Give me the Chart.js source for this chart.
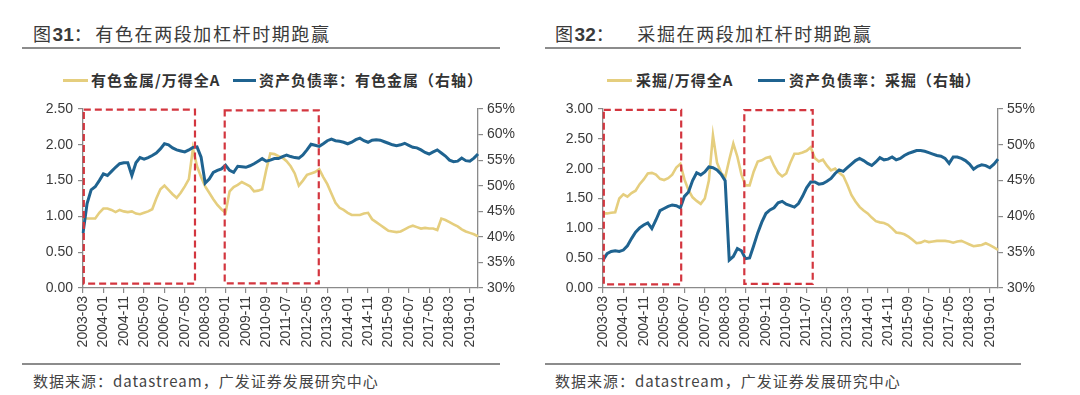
<!DOCTYPE html>
<html><head><meta charset="utf-8">
<script src="https://cdn.jsdelivr.net/npm/chart.js@4.4.1/dist/chart.umd.min.js"></script>
<style>
html,body{margin:0;padding:0;background:#fff;}
body{width:1080px;height:395px;position:relative;overflow:hidden;font-family:"Noto Sans CJK SC","Liberation Sans",sans-serif;color:#333;}
.abs{position:absolute;white-space:nowrap;}
.title{font-size:18px;line-height:22px;top:22px;letter-spacing:1.6px;color:#3a3a3a;}
.title b{font-family:"Liberation Sans",Arial,sans-serif;font-weight:bold;font-size:19px;letter-spacing:0;}
.rule{position:absolute;height:1.5px;background:#8c8c8c;}
.leg{font-size:15px;line-height:20px;top:70px;font-weight:bold;letter-spacing:1px;color:#333;}
.sw{position:absolute;height:3px;top:79px;}
.src{font-size:15px;top:371px;line-height:20px;letter-spacing:1px;color:#444;}
canvas{position:absolute;}
</style>
</head><body>

<div class="abs title" style="left:33px;">图<b>31</b>：<span style="margin-left:2px">有色在两段加杠杆时期跑赢</span></div>
<div class="rule" style="left:22px;width:478px;top:47px;"></div>
<div class="sw" style="left:63px;width:25px;background:#E5CE7E;"></div>
<div class="abs leg" style="left:91px;">有色金属/万得全A</div>
<div class="sw" style="left:233px;width:23px;background:#1F6390;"></div>
<div class="abs leg" style="left:259px;">资产负债率：有色金属（右轴）</div>
<canvas id="c1" width="540" height="265" style="left:0;top:95px;"></canvas>
<div class="rule" style="left:22px;width:478px;top:363px;"></div>
<div class="abs src" style="left:33px;">数据来源：datastream，广发证券发展研究中心</div>

<div class="abs title" style="left:555px;">图<b>32</b>：<span style="margin-left:22px">采掘在两段加杠杆时期跑赢</span></div>
<div class="rule" style="left:545px;width:476px;top:47px;"></div>
<div class="sw" style="left:607px;width:25px;background:#E5CE7E;"></div>
<div class="abs leg" style="left:636px;">采掘/万得全A</div>
<div class="sw" style="left:758px;width:27px;background:#1F6390;"></div>
<div class="abs leg" style="left:789px;">资产负债率：采掘（右轴）</div>
<canvas id="c2" width="540" height="265" style="left:540px;top:95px;"></canvas>
<div class="rule" style="left:545px;width:476px;top:363px;"></div>
<div class="abs src" style="left:555px;">数据来源：datastream，广发证券发展研究中心</div>

<script>
const categories = [
"2003-03","2003-05","2003-07","2003-09","2003-11",
"2004-01","2004-03","2004-05","2004-07","2004-09","2004-11",
"2005-01","2005-03","2005-05","2005-07","2005-09","2005-11",
"2006-01","2006-03","2006-05","2006-07","2006-09","2006-11",
"2007-01","2007-03","2007-05","2007-07","2007-09","2007-11",
"2008-01","2008-03","2008-05","2008-07","2008-09","2008-11",
"2009-01","2009-03","2009-05","2009-07","2009-09","2009-11",
"2010-01","2010-03","2010-05","2010-07","2010-09","2010-11",
"2011-01","2011-03","2011-05","2011-07","2011-09","2011-11",
"2012-01","2012-03","2012-05","2012-07","2012-09","2012-11",
"2013-01","2013-03","2013-05","2013-07","2013-09","2013-11",
"2014-01","2014-03","2014-05","2014-07","2014-09","2014-11",
"2015-01","2015-03","2015-05","2015-07","2015-09","2015-11",
"2016-01","2016-03","2016-05","2016-07","2016-09","2016-11",
"2017-01","2017-03","2017-05","2017-07","2017-09","2017-11",
"2018-01","2018-03","2018-05","2018-07","2018-09","2018-11",
"2019-01","2019-03","2019-05"];

// 图31: 有色金属/万得全A (left axis)
const metalsRelative = [
0.98,0.97,0.97,0.97,1.05,1.11,1.11,1.09,1.06,1.09,
1.07,1.06,1.07,1.04,1.03,1.05,1.07,1.10,1.25,1.38,
1.43,1.37,1.31,1.26,1.33,1.42,1.52,1.95,1.70,1.55,
1.42,1.33,1.24,1.16,1.10,1.05,1.35,1.41,1.44,1.48,
1.45,1.42,1.35,1.36,1.38,1.65,1.88,1.87,1.84,1.82,
1.77,1.70,1.60,1.43,1.50,1.58,1.60,1.62,1.66,1.55,
1.45,1.32,1.19,1.12,1.09,1.05,1.02,1.02,1.02,1.04,
1.05,0.96,0.92,0.88,0.84,0.80,0.79,0.78,0.79,0.82,
0.85,0.87,0.85,0.83,0.84,0.83,0.83,0.81,0.97,0.95,
0.92,0.89,0.86,0.82,0.79,0.77,0.75,0.72];

// 图31: 资产负债率：有色金属 (right axis, %)
const metalsDebtRatio = [
40.7,46.5,49.2,49.8,51.0,52.3,52.0,52.8,53.6,54.3,
54.5,54.5,52.0,54.5,55.5,55.2,55.5,55.9,56.4,57.2,
58.2,58.0,57.4,57.0,56.8,56.6,57.0,57.5,57.6,55.6,
50.5,51.3,52.6,53.0,53.3,54.0,53.0,52.6,53.8,53.7,
53.6,53.9,54.3,54.8,55.3,54.8,55.0,55.3,55.3,55.7,
56.0,55.7,55.5,55.4,56.0,57.0,58.1,57.9,57.7,58.2,
58.8,59.1,58.8,58.7,58.5,58.2,58.5,59.0,59.3,58.8,
58.5,58.9,59.0,58.9,58.6,58.3,58.0,57.8,58.0,58.3,
57.9,57.5,57.4,57.0,56.5,56.2,56.6,57.0,56.4,55.8,
55.0,54.7,54.8,55.4,54.9,54.8,55.4,56.2];

// 图32: 采掘/万得全A (left axis)
const miningRelative = [
1.25,1.25,1.26,1.27,1.50,1.57,1.53,1.59,1.63,1.74,
1.82,1.92,1.93,1.90,1.83,1.81,1.84,1.90,2.02,2.08,
1.82,1.64,1.52,1.46,1.41,1.50,1.80,2.56,2.10,1.93,
1.85,2.15,2.42,2.20,1.90,1.72,1.72,1.95,2.12,2.14,
2.18,2.20,2.05,1.93,1.87,1.92,2.10,2.25,2.25,2.27,
2.30,2.36,2.18,2.12,2.15,2.05,1.97,2.00,1.93,1.88,
1.73,1.56,1.45,1.36,1.30,1.25,1.18,1.12,1.10,1.09,
1.06,1.00,0.93,0.92,0.90,0.86,0.81,0.75,0.76,0.79,
0.77,0.78,0.79,0.79,0.79,0.78,0.76,0.78,0.79,0.76,
0.73,0.70,0.71,0.72,0.75,0.72,0.68,0.64];

// 图32: 资产负债率：采掘 (right axis, %)
const miningDebtRatio = [
33.9,34.8,35.1,35.2,35.1,35.3,35.9,36.9,37.8,38.4,
38.8,39.1,38.3,39.5,40.8,41.1,41.4,41.6,41.5,41.2,
42.8,43.4,45.0,46.1,45.8,46.2,46.9,46.8,46.5,45.9,
45.0,33.9,34.4,35.5,35.2,34.1,34.2,35.9,37.7,39.2,
40.4,40.9,41.2,41.9,42.1,41.7,41.5,41.3,41.8,42.8,
44.0,44.8,44.8,44.5,44.6,44.9,45.3,46.0,46.5,46.3,
46.8,47.3,47.8,48.1,47.8,47.4,47.1,47.6,48.2,47.9,
48.0,48.3,47.9,48.1,48.5,48.8,49.0,49.2,49.2,49.1,
48.9,48.7,48.5,48.4,48.1,47.4,48.3,48.3,48.1,47.8,
47.3,46.6,47.0,47.2,47.1,46.8,47.3,48.0];

// highlighted periods: [start index, end index, top value, bottom value] (left-axis units)
const metalsPeriods = [[0.2, 27.5, 2.49, 0.06], [34.8, 57.9, 2.48, 0.065]];
const miningPeriods = [[0.2, 19.2, 2.985, 0.06], [34.7, 51.5, 2.98, 0.07]];

const leftTicks31 = [0, 0.5, 1, 1.5, 2, 2.5];
const rightTicks31 = [30, 35, 40, 45, 50, 55, 60, 65];
const leftTicks32 = [0, 0.5, 1, 1.5, 2, 2.5, 3];
const rightTicks32 = [30, 35, 40, 45, 50, 55];

const YELLOW = '#E5CE7E', BLUE = '#1F6390', RED = '#D3363F', AXIS = '#8a8a8a', TXT = '#3a3a3a';
const FONT = '"Liberation Sans", Arial, sans-serif';

const boxPlugin = {
  id: 'periodBoxes',
  afterDatasetsDraw(chart, args, opts) {
    const ctx = chart.ctx, x = chart.scales.x, y = chart.scales.y;
    ctx.save();
    ctx.strokeStyle = opts.color;
    ctx.lineWidth = 2.2;
    ctx.setLineDash([7, 4]);
    for (const b of opts.ranges) {
      const x0 = x.getPixelForValue(b[0]), x1 = x.getPixelForValue(b[1]);
      const y0 = y.getPixelForValue(b[2]), y1 = y.getPixelForValue(b[3]);
      ctx.strokeRect(x0, y0, x1 - x0, y1 - y0);
    }
    ctx.restore();
  }
};

function makeChart(id, cfg) {
  const tickFont = { family: FONT, size: 14 };
  return new Chart(document.getElementById(id), {
    type: 'line',
    data: {
      labels: categories,
      datasets: [
        { label: cfg.yLabel, data: cfg.yellow, yAxisID: 'y', borderColor: YELLOW, borderWidth: 2.6,
          pointRadius: 0, tension: 0, order: 2, fill: false },
        { label: cfg.bLabel, data: cfg.blue, yAxisID: 'y1', borderColor: BLUE, borderWidth: 3,
          pointRadius: 0, tension: 0, order: 1, fill: false }
      ]
    },
    options: {
      responsive: false, animation: false,
      layout: { padding: { top: 14, left: 0, right: 0, bottom: 0 } },
      plugins: { legend: { display: false }, tooltip: { enabled: false },
                 periodBoxes: { ranges: cfg.boxes, color: RED } },
      scales: {
        x: {
          type: 'category', offset: false,
          grid: { display: true, drawOnChartArea: false, drawTicks: true, tickLength: 5,
                  color: (c) => (c.index % 5 === 0 ? AXIS : 'rgba(0,0,0,0)'), lineWidth: 1.2 },
          border: { display: true, color: AXIS, width: 1.3 },
          ticks: { autoSkip: false, maxRotation: 90, minRotation: 90, padding: 3, color: TXT, font: tickFont,
                   callback: (v, i) => (i % 5 === 0 ? categories[i] : '') },
          afterFit: (s) => { s.height = 72; }
        },
        y: {
          position: 'left', min: cfg.leftTicks[0], max: cfg.leftTicks[cfg.leftTicks.length - 1],
          afterBuildTicks: (s) => { s.ticks = cfg.leftTicks.map(v => ({ value: v })); },
          grid: { display: true, drawOnChartArea: false, drawTicks: true, tickLength: 5, color: AXIS, lineWidth: 1.2 },
          border: { display: true, color: AXIS, width: 1.3 },
          ticks: { padding: 5, color: TXT, font: tickFont, callback: (v) => Number(v).toFixed(2) },
          afterFit: (s) => { s.width = cfg.leftW; }
        },
        y1: {
          position: 'right', min: cfg.rightTicks[0], max: cfg.rightTicks[cfg.rightTicks.length - 1],
          afterBuildTicks: (s) => { s.ticks = cfg.rightTicks.map(v => ({ value: v })); },
          grid: { display: true, drawOnChartArea: false, drawTicks: true, tickLength: 5, color: AXIS, lineWidth: 1.2 },
          border: { display: true, color: AXIS, width: 1.3 },
          ticks: { padding: 4, color: TXT, font: tickFont, callback: (v) => v + '%' },
          afterFit: (s) => { s.width = cfg.rightW; }
        }
      }
    },
    plugins: [boxPlugin]
  });
}

makeChart('c1', { yLabel: '有色金属/万得全A', bLabel: '资产负债率：有色金属（右轴）',
  yellow: metalsRelative, blue: metalsDebtRatio, boxes: metalsPeriods,
  leftTicks: leftTicks31, rightTicks: rightTicks31, leftW: 83, rightW: 62 });
makeChart('c2', { yLabel: '采掘/万得全A', bLabel: '资产负债率：采掘（右轴）',
  yellow: miningRelative, blue: miningDebtRatio, boxes: miningPeriods,
  leftTicks: leftTicks32, rightTicks: rightTicks32, leftW: 63, rightW: 82 });
</script>
</body></html>
